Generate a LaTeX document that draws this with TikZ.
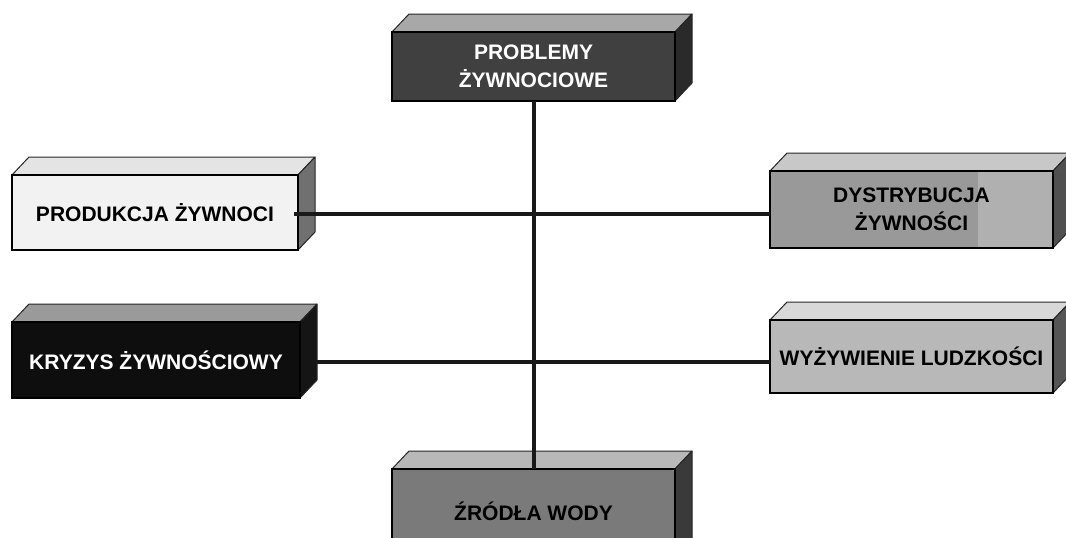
\documentclass[tikz,border=0pt]{standalone}
\usepackage{fontspec}
\setmainfont{Liberation Sans}
\usetikzlibrary{calc}
\definecolor{probF}{HTML}{404040}\definecolor{probT}{HTML}{A8A8A8}\definecolor{probS}{HTML}{2A2A2A}
\definecolor{prodF}{HTML}{F2F2F2}\definecolor{prodT}{HTML}{E4E4E4}\definecolor{prodS}{HTML}{707070}
\definecolor{dystF}{HTML}{999999}\definecolor{dystT}{HTML}{C8C8C8}\definecolor{dystS}{HTML}{505050}\definecolor{dystL}{HTML}{B0B0B0}
\definecolor{kryzF}{HTML}{0E0E0E}\definecolor{kryzT}{HTML}{9A9A9A}\definecolor{kryzS}{HTML}{151515}
\definecolor{wyzF}{HTML}{B8B8B8}\definecolor{wyzT}{HTML}{D8D8D8}\definecolor{wyzS}{HTML}{555555}
\definecolor{zrodF}{HTML}{7A7A7A}\definecolor{zrodT}{HTML}{B8B8B8}\definecolor{zrodS}{HTML}{3A3A3A}
\tikzset{
  frontbox/.style={draw=black, line width=1.8pt, inner sep=0pt, outer sep=0pt, align=center,
    font=\bfseries\fontsize{21}{28}\selectfont},
  facebox/.style={draw=black!85, line width=1pt, line join=round},
  link/.style={draw=black!90, line width=4pt},
  lightright/.style={path picture={\fill[dystL] ([xshift=-75pt]path picture bounding box.north east) rectangle (path picture bounding box.south east);}}
}
% #1 name, #2 x, #3 y, #4 w, #5 h, #6 color prefix, #7 text colour, #8 text, #9 extra options
\newcommand\cuboidbox[9]{%
  \path[facebox, fill=#6T] (#2,#3) -- ++(17,-18) -- ++(#4,0) -- ++(-17,18) -- cycle;
  \path[facebox, fill=#6S] (#2+#4,#3) -- ++(17,-18) -- ++(0,#5) -- ++(-17,18) -- cycle;
  \node[frontbox, fill=#6F, text=#7, minimum width=#4pt, minimum height=#5pt, anchor=north west, #9] (#1) at (#2,#3) {#8};
}
\begin{document}
\begin{tikzpicture}[x=1pt,y=-1pt]
\useasboundingbox (0,0) rectangle (1066,538);
\fill[white] (0,0) rectangle (1066,538);
\begin{scope}
\clip (0,0) rectangle (1066,538);
\cuboidbox{prob}{392}{32}{283}{69}{prob}{white}{PROBLEMY\\ŻYWNOCIOWE}{}
\cuboidbox{prod}{12}{175}{286}{75}{prod}{black}{PRODUKCJA ŻYWNOCI}{}
\cuboidbox{dyst}{770}{171}{283}{77}{dyst}{black}{DYSTRYBUCJA\\ŻYWNOŚCI}{lightright}
\cuboidbox{kryz}{12}{322}{288}{76}{kryz}{white}{KRYZYS ŻYWNOŚCIOWY}{}
\cuboidbox{wyz}{770}{320}{283}{73}{wyz}{black}{WYŻYWIENIE LUDZKOŚCI}{}
\cuboidbox{zrod}{392}{469}{283}{90}{zrod}{black}{\raisebox{6pt}{ŹRÓDŁA WODY}}{}
\end{scope}
\draw[link] (prob.south) -- (zrod.north);
\coordinate (prodR) at ([xshift=-4pt,yshift=-1pt]prod.east);
\draw[link] (prodR) -- (prodR -| dyst.west);
\coordinate (kryzR) at ([xshift=17pt,yshift=-2pt]kryz.east);
\draw[link] (kryzR) -- (kryzR -| wyz.west);
\end{tikzpicture}
\end{document}
